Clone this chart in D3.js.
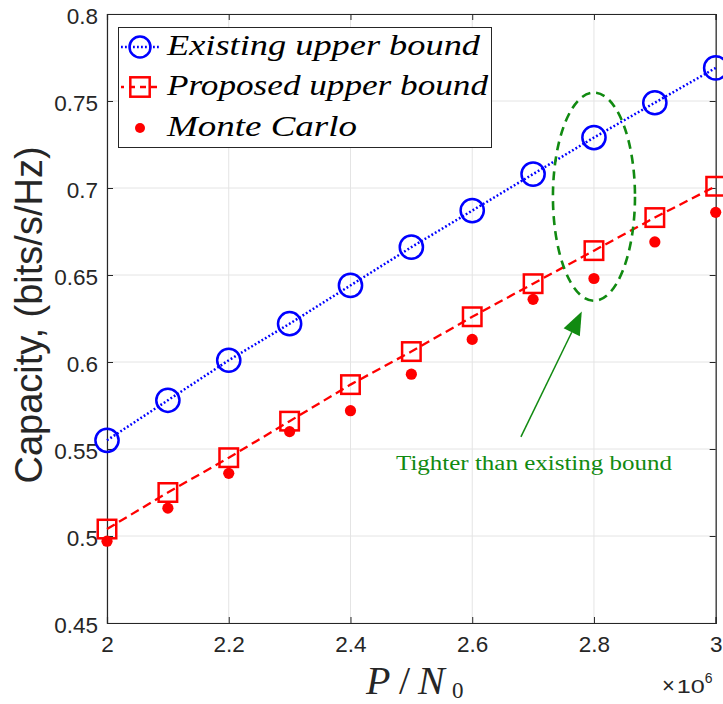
<!DOCTYPE html>
<html>
<head>
<meta charset="utf-8">
<script src="https://cdn.jsdelivr.net/npm/d3@7"></script>
<style>
  body { margin: 0; background: #fff; }
</style>
</head>
<body>
<div id="chart"></div>
<script>
// data
var snr = [2.0, 2.1, 2.2, 2.3, 2.4, 2.5, 2.6, 2.7, 2.8, 2.9, 3.0];
var existingBound = [0.555, 0.578, 0.601, 0.622, 0.644, 0.666, 0.687, 0.708, 0.729, 0.749, 0.769];
var proposedBound = [0.504, 0.525, 0.545, 0.566, 0.587, 0.606, 0.626, 0.645, 0.664, 0.683, 0.701];
var monteCarlo    = [0.497, 0.516, 0.536, 0.560, 0.572, 0.593, 0.613, 0.636, 0.648, 0.669, 0.686];
var xTicks = [2, 2.2, 2.4, 2.6, 2.8, 3];
var yTicks = [0.45, 0.5, 0.55, 0.6, 0.65, 0.7, 0.75, 0.8];
var legendLabels = ["Existing upper bound", "Proposed upper bound", "Monte Carlo"];
// annotation (data units)
var ellipseCenter = [2.8, 0.695], ellipseRadii = [0.0674, 0.0598];
var arrowFrom = [2.680, 0.557], arrowTo = [2.780, 0.629];
var noteText = "Tighter than existing bound", notePos = [2.7015, 0.538];

// set the dimensions and margins of the graph
var W = 723, H = 704;
var margin = {top: 14, right: 7.3, bottom: 81, left: 107},
    width = W - margin.left - margin.right,
    height = H - margin.top - margin.bottom;

var svg = d3.select("#chart")
  .append("svg")
    .attr("width", W)
    .attr("height", H);
var g = svg.append("g")
    .attr("transform", "translate(" + margin.left + "," + margin.top + ")");

var x = d3.scaleLinear().domain([2, 3]).range([0, width]);
var y = d3.scaleLinear().domain([0.45, 0.8]).range([height, 0]);

var axisColor = "#262626";
var green = "#118a11";

// grid
g.append("g").selectAll("line.gx").data(xTicks).enter().append("line")
    .attr("x1", function(d) { return x(d) }).attr("x2", function(d) { return x(d) })
    .attr("y1", 0).attr("y2", height)
    .attr("stroke", "#e4e4e4").attr("stroke-width", 1);
g.append("g").selectAll("line.gy").data(yTicks).enter().append("line")
    .attr("y1", function(d) { return y(d) }).attr("y2", function(d) { return y(d) })
    .attr("x1", 0).attr("x2", width)
    .attr("stroke", "#e4e4e4").attr("stroke-width", 1);

// axes (MATLAB style: ticks inward, box on)
var tickLen = 6;
var tickFont = "'Liberation Sans', Arial, sans-serif";
var xAxis = g.append("g")
  .attr("transform", "translate(0," + height + ")")
  .call(d3.axisBottom(x).tickValues(xTicks).tickSize(-tickLen).tickPadding(12)
        .tickFormat(d3.format("")));
var yAxis = g.append("g")
  .call(d3.axisLeft(y).tickValues(yTicks).tickSize(-tickLen).tickPadding(9)
        .tickFormat(d3.format("")));
var xTop = g.append("g")
  .call(d3.axisTop(x).tickValues(xTicks).tickSize(-tickLen).tickFormat(""));
var yRight = g.append("g")
  .attr("transform", "translate(" + width + ",0)")
  .call(d3.axisRight(y).tickValues(yTicks).tickSize(-tickLen).tickFormat(""));
[xAxis, yAxis, xTop, yRight].forEach(function(a) {
  a.selectAll("path.domain").attr("stroke", axisColor).attr("stroke-width", 1.2);
  a.selectAll(".tick line").attr("stroke", axisColor);
  a.selectAll("text").attr("fill", axisColor).style("font-family", tickFont).style("font-size", "22.5px");
});
xAxis.selectAll("text").attr("dy", "0.75em");
yAxis.selectAll("text").attr("dy", "0.42em");

// Existing upper bound: blue dotted line + circles
var line = d3.line()
  .x(function(d) { return x(d[0]) })
  .y(function(d) { return y(d[1]) });
g.append("path")
  .datum(d3.zip(snr, existingBound))
  .attr("fill", "none")
  .attr("stroke", "#0000ff")
  .attr("stroke-width", 2.5)
  .attr("stroke-dasharray", "1.8,2.2")
  .attr("d", line);
g.append("g").selectAll("circle").data(d3.zip(snr, existingBound)).enter().append("circle")
  .attr("cx", function(d) { return x(d[0]) })
  .attr("cy", function(d) { return y(d[1]) })
  .attr("r", 11.6)
  .attr("fill", "none")
  .attr("stroke", "#0000ff")
  .attr("stroke-width", 2.5);

// Proposed upper bound: red dashed line + squares
g.append("path")
  .datum(d3.zip(snr, proposedBound))
  .attr("fill", "none")
  .attr("stroke", "#ff0000")
  .attr("stroke-width", 2.3)
  .attr("stroke-dasharray", "9,5")
  .attr("d", line);
var sq = 18.5;
g.append("g").selectAll("rect").data(d3.zip(snr, proposedBound)).enter().append("rect")
  .attr("x", function(d) { return x(d[0]) - sq / 2 })
  .attr("y", function(d) { return y(d[1]) - sq / 2 })
  .attr("width", sq).attr("height", sq)
  .attr("fill", "none")
  .attr("stroke", "#ff0000")
  .attr("stroke-width", 2.5);

// Monte Carlo points
g.append("g").selectAll("circle").data(d3.zip(snr, monteCarlo)).enter().append("circle")
  .attr("cx", function(d) { return x(d[0]) })
  .attr("cy", function(d) { return y(d[1]) })
  .attr("r", 5.6)
  .attr("fill", "#ff0000");

// annotation: ellipse, arrow, text
g.append("ellipse")
  .attr("cx", x(ellipseCenter[0])).attr("cy", y(ellipseCenter[1]))
  .attr("rx", x(2 + ellipseRadii[0]) - x(2))
  .attr("ry", y(0.45) - y(0.45 + ellipseRadii[1]))
  .attr("fill", "none")
  .attr("stroke", green)
  .attr("stroke-width", 2.6)
  .attr("stroke-dasharray", "9,6");

var ax0 = x(arrowFrom[0]), ay0 = y(arrowFrom[1]);
var ax1 = x(arrowTo[0]), ay1 = y(arrowTo[1]);
var ang = Math.atan2(ay1 - ay0, ax1 - ax0);
var headLen = 23, headW = 9;
var bx = ax1 - headLen * Math.cos(ang), by = ay1 - headLen * Math.sin(ang);
g.append("line")
  .attr("x1", ax0).attr("y1", ay0).attr("x2", bx).attr("y2", by)
  .attr("stroke", green).attr("stroke-width", 1.5);
g.append("path")
  .attr("d", "M" + ax1 + "," + ay1 +
    "L" + (bx + headW * Math.sin(ang)) + "," + (by - headW * Math.cos(ang)) +
    "L" + (bx - headW * Math.sin(ang)) + "," + (by + headW * Math.cos(ang)) + "Z")
  .attr("fill", green);

g.append("text")
  .attr("x", x(notePos[0])).attr("y", y(notePos[1]))
  .attr("text-anchor", "middle")
  .attr("fill", green)
  .attr("textLength", 276)
  .attr("lengthAdjust", "spacingAndGlyphs")
  .style("font-family", "'Liberation Serif', 'Times New Roman', serif")
  .style("font-size", "20.5px")
  .text(noteText);

// legend
var leg = svg.append("g");
leg.append("rect")
  .attr("x", 118.5).attr("y", 27.5).attr("width", 373).attr("height", 120)
  .attr("fill", "#fff").attr("stroke", axisColor).attr("stroke-width", 1);
var rowY = [47, 87, 128];
var textW = [313, 321, 190];
// row 1
leg.append("line").attr("x1", 121).attr("x2", 160).attr("y1", rowY[0]).attr("y2", rowY[0])
  .attr("stroke", "#0000ff").attr("stroke-width", 2.5).attr("stroke-dasharray", "1.8,2.2");
leg.append("circle").attr("cx", 140).attr("cy", rowY[0]).attr("r", 10.5)
  .attr("fill", "none").attr("stroke", "#0000ff").attr("stroke-width", 2.5);
// row 2
leg.append("line").attr("x1", 121).attr("x2", 160).attr("y1", rowY[1]).attr("y2", rowY[1])
  .attr("stroke", "#ff0000").attr("stroke-width", 2.3).attr("stroke-dasharray", "6,5").attr("stroke-dashoffset", 3);
leg.append("rect").attr("x", 140 - 9.7).attr("y", rowY[1] - 9.7).attr("width", 19.4).attr("height", 19.4)
  .attr("fill", "none").attr("stroke", "#ff0000").attr("stroke-width", 2.5);
// row 3
leg.append("circle").attr("cx", 140).attr("cy", rowY[2]).attr("r", 5).attr("fill", "#ff0000");

leg.selectAll("text.lab").data(legendLabels).enter().append("text")
  .attr("x", 167)
  .attr("y", function(d, i) { return rowY[i] + 8 })
  .attr("textLength", function(d, i) { return textW[i] })
  .attr("lengthAdjust", "spacingAndGlyphs")
  .attr("fill", "#000")
  .style("font-family", "'Liberation Serif', 'Times New Roman', serif")
  .style("font-style", "italic")
  .style("font-size", "30px")
  .text(function(d) { return d });

// axis labels
svg.append("text")
  .attr("transform", "translate(42," + 315 + ") rotate(-90)")
  .attr("text-anchor", "middle")
  .attr("fill", axisColor)
  .style("font-family", tickFont)
  .style("font-size", "38px")
  .text("Capacity, (bits/s/Hz)");

// x label: P / N_0 set glyph by glyph like the math typesetting
var xl = svg.append("text")
  .attr("y", 694)
  .attr("fill", axisColor)
  .style("font-family", "'Liberation Serif', 'Times New Roman', serif")
  .style("font-size", "40px");
xl.append("tspan").attr("x", 366).style("font-style", "italic").text("P");
xl.append("tspan").attr("x", 399).text("/");
xl.append("tspan").attr("x", 418).style("font-style", "italic").text("N");
xl.append("tspan").attr("x", 452).attr("dy", 4).style("font-size", "23px").text("0");

var ex = svg.append("text")
  .attr("x", 662).attr("y", 693)
  .attr("fill", axisColor)
  .style("font-family", tickFont)
  .style("font-size", "19px");
ex.append("tspan").style("font-size", "22px").text("\u00d7");
ex.append("tspan").attr("dx", 2).attr("textLength", 28).attr("lengthAdjust", "spacingAndGlyphs").text("10");
ex.append("tspan").attr("dy", -10).style("font-size", "14px").text("6");
</script>
</body>
</html>
